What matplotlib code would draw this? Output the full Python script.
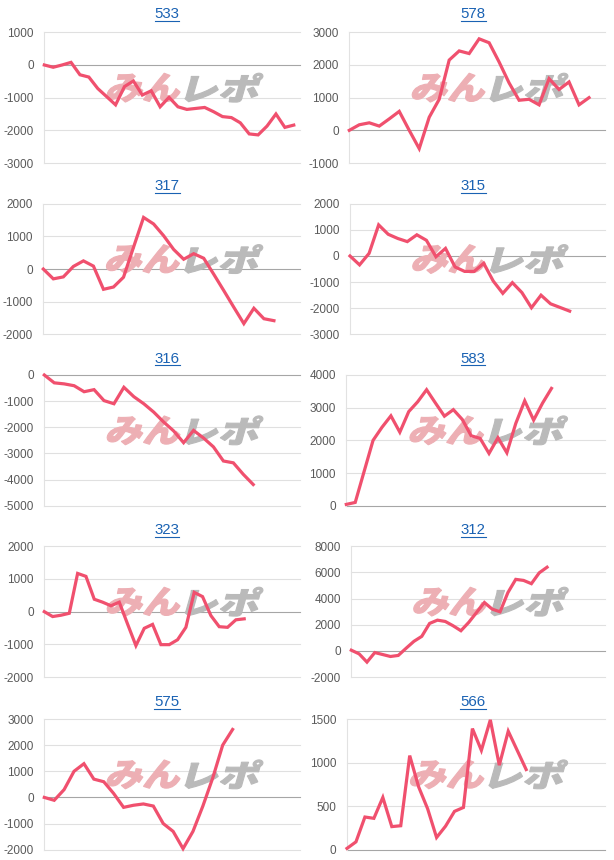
import numpy as np
import matplotlib.pyplot as plt
from matplotlib.textpath import TextPath
from matplotlib.font_manager import FontProperties
from matplotlib.patches import PathPatch
from matplotlib.transforms import Affine2D
from matplotlib.lines import Line2D

plt.rcParams['font.family'] = ['Liberation Sans', 'DejaVu Sans']
plt.rcParams['axes.unicode_minus'] = False

# machine numbers (chart titles)
titles = ['533', '578', '317', '315', '316', '583', '323', '312', '575', '566']

# values, one list per machine
s533 = [0, -70, 0, 80, -300, -370, -720, -970, -1220, -660, -490, -920, -790, -1280, -990,
        -1280, -1360, -1330, -1300, -1430, -1580, -1610, -1770, -2110, -2140, -1870, -1500, -1910, -1840]
s578 = [0, 170, 230, 130, 350, 580, 0, -560, 400, 950, 2150, 2430, 2350, 2800, 2680,
        2090, 1450, 920, 950, 780, 1580, 1250, 1480, 780, 1000]
s317 = [0, -300, -240, 80, 250, 90, -620, -550, -250, 670, 1580, 1380, 1020, 600, 300,
        470, 330, -160, -660, -1170, -1670, -1200, -1520, -1580]
s315 = [0, -340, 100, 1190, 830, 670, 550, 810, 600, -30, 290, -420, -590, -590, -280,
        -960, -1430, -1020, -1400, -1980, -1500, -1830, -1970, -2110]
s316 = [0, -300, -340, -410, -640, -560, -980, -1100, -470, -830, -1100, -1420, -1800, -2140,
        -2590, -2120, -2410, -2750, -3290, -3360, -3800, -4190]
s583 = [40, 100, 1050, 2000, 2400, 2750, 2250, 2880, 3180, 3550, 3140, 2740, 2940, 2640,
        2140, 2060, 1600, 2080, 1620, 2520, 3210, 2620, 3140, 3590]
s323 = [0, -150, -110, -50, 1170, 1080, 380, 290, 180, 290, -380, -1040, -510, -390, -1010,
        -1010, -860, -480, 590, 460, -120, -460, -480, -250, -220]
s312 = [50, -230, -860, -130, -280, -430, -350, 200, 730, 1110, 2100, 2350, 2250, 1920, 1540,
        2180, 2940, 3700, 3190, 2990, 4460, 5470, 5390, 5140, 5970, 6400]
s575 = [0, -110, 300, 1000, 1290, 700, 600, 150, -380, -300, -250, -330, -1000, -1300, -1960,
        -1300, -330, 750, 2000, 2600]
s566 = [15, 90, 375, 360, 600, 265, 275, 1080, 720, 470, 140, 270, 440, 485, 1390, 1140,
        1490, 970, 1360, 1140, 920]

series = [s533, s578, s317, s315, s316, s583, s323, s312, s575, s566]

y_ticks = [
    [-3000, -2000, -1000, 0, 1000],
    [-1000, 0, 1000, 2000, 3000],
    [-2000, -1000, 0, 1000, 2000],
    [-3000, -2000, -1000, 0, 1000, 2000],
    [-5000, -4000, -3000, -2000, -1000, 0],
    [0, 1000, 2000, 3000, 4000],
    [-2000, -1000, 0, 1000, 2000],
    [-2000, 0, 2000, 4000, 6000, 8000],
    [-2000, -1000, 0, 1000, 2000, 3000],
    [0, 500, 1000, 1500],
]

# x extent of each panel (in sample steps)
x_max = [28.7, 25.6, 25.6, 26.7, 25.7, 29.0, 30.7, 32.4, 25.8, 28.8]

W, H = 614, 860
LINE = '#f0506e'
BLUE = '#1a62b3'

fig = plt.figure(figsize=(W / 100, H / 100), dpi=100)

row_top = [32.3, 203.7, 375, 546.3, 719]
left1 = [44.3, 43.3, 44.3, 44.3, 44.3]
left2 = [349.3, 350, 346.3, 351.3, 347]
title_x = [167, 473]

fp_wm = FontProperties(family='Noto Sans CJK JP', weight='heavy')


def watermark(ax):
    for txt, x0, x1, col in [('みん', 0.246, 0.531, '#edafb4'), ('レポ', 0.55, 0.855, '#bababa')]:
        p = TextPath((0, 0), txt, size=1, prop=fp_wm)
        p = p.transformed(Affine2D().skew_deg(12, 0))
        ext = p.get_extents()
        tr = (Affine2D().translate(-ext.x0, -ext.y0)
              .scale((x1 - x0) / ext.width, (0.687 - 0.466) / ext.height)
              .translate(x0, 0.466) + ax.transAxes)
        ax.add_patch(PathPatch(p, transform=tr, fc=col, ec=col, lw=0.8,
                               zorder=1.5, clip_on=False))


title_texts = []
for i, (name, vals) in enumerate(zip(titles, series)):
    row, col = i // 2, i % 2
    left = left1[row] if col == 0 else left2[row]
    right = 300 if col == 0 else 605
    top = row_top[row]
    bottom = top + 130.7
    ax = fig.add_axes([left / W, 1 - bottom / H, (right - left) / W, (bottom - top) / H])

    ticks = y_ticks[i]
    ax.set_ylim(ticks[0], ticks[-1])
    ax.set_xlim(0, x_max[i])
    ax.set_yticks(ticks)
    ax.set_xticks([])
    ax.tick_params(axis='y', length=0, pad=7.5, labelsize=8.5, labelcolor='#5a5a5a')
    for s in ['top', 'right', 'bottom']:
        ax.spines[s].set_visible(False)
    ax.spines['left'].set_color('#e2e2e2')
    ax.spines['left'].set_linewidth(0.8)

    for t in ticks:
        c = '#a6a6a6' if t == 0 else '#e0e0e0'
        ax.axhline(t, color=c, lw=0.8, zorder=1, clip_on=False)

    watermark(ax)
    ax.plot(np.arange(len(vals)), vals, color=LINE, lw=2.3, zorder=3,
            solid_joinstyle='miter', clip_on=False)

    tt = fig.text(title_x[col] / W, 1 - (172 * row + 18.5) / H, name, ha='center',
                  va='baseline', fontsize=10.8, color=BLUE)
    title_texts.append(tt)

# underline the titles like links
fig.canvas.draw()
inv = fig.transFigure.inverted()
for tt in title_texts:
    bb = tt.get_window_extent().transformed(inv)
    y = tt.get_position()[1] - 2.3 / H
    fig.add_artist(Line2D([bb.x0, bb.x1], [y, y], transform=fig.transFigure,
                          color=BLUE, lw=0.8))

fig.savefig('out.png', dpi=100)
